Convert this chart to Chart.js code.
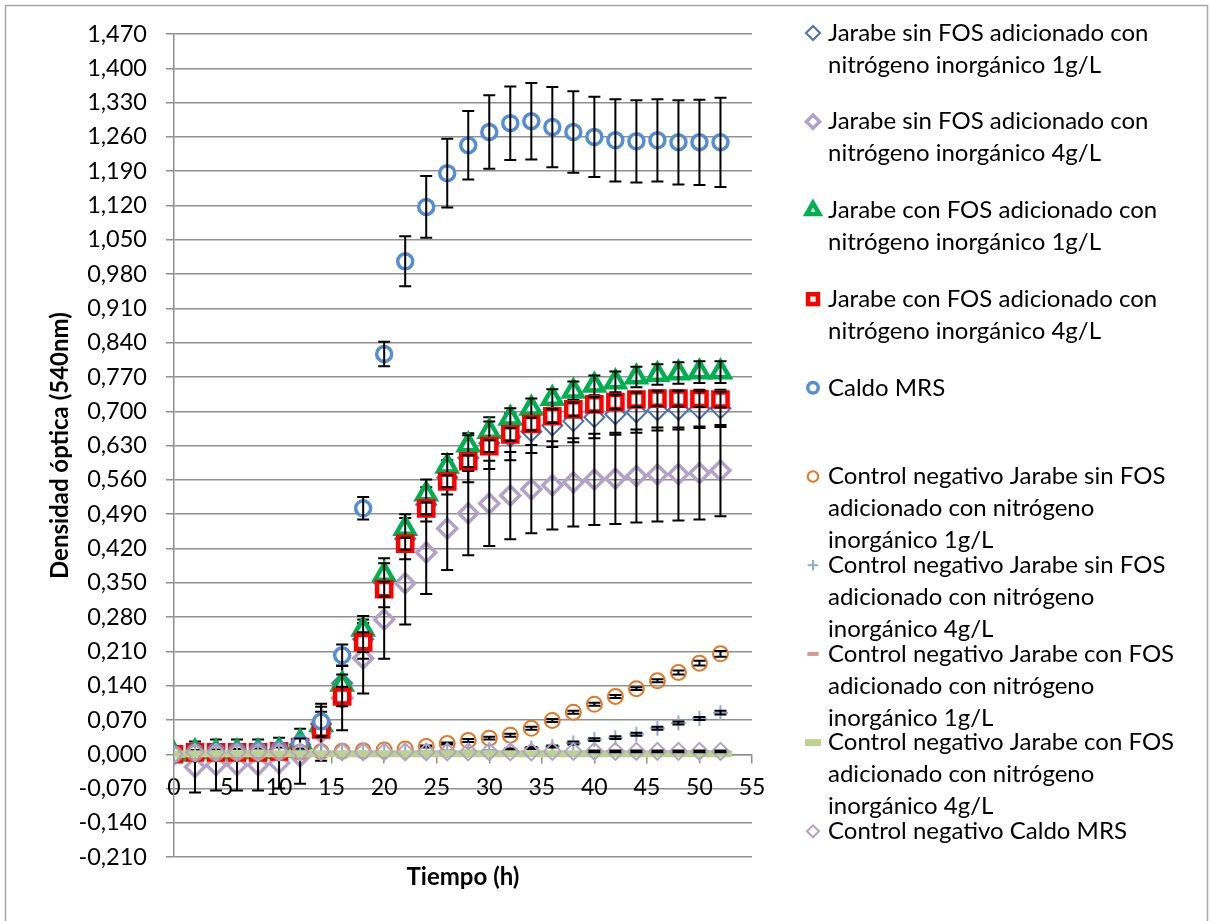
<!DOCTYPE html>
<html lang="es">
<head>
<meta charset="utf-8">
<title>Densidad óptica (540nm)</title>
<script src="https://cdn.jsdelivr.net/npm/chart.js@4.4.1/dist/chart.umd.min.js"></script>
<style>
  html, body { margin: 0; padding: 0; background: #fff; }
  canvas { display: block; }
</style>
</head>
<body>
<canvas id="grafico" width="1210" height="921"></canvas>
<script>
// tiempo de muestreo (h)
const horas = [0, 2, 4, 6, 8, 10, 12, 14, 16, 18, 20, 22, 24, 26, 28, 30, 32, 34, 36, 38, 40, 42, 44, 46, 48, 50, 52];

// DO 540nm, promedio y desviacion de cada tratamiento
const sinFos1g    = [0, 0.003, 0.005, 0.005, 0.005, 0.008, 0.020, 0.062, 0.145, 0.235, 0.350, 0.440, 0.510, 0.565, 0.605, 0.635, 0.648, 0.659, 0.671, 0.680, 0.688, 0.694, 0.698, 0.702, 0.703, 0.705, 0.706];
const sinFos1gErr = [0, 0.004, 0.004, 0.004, 0.004, 0.005, 0.010, 0.025, 0.035, 0.040, 0.050, 0.042, 0.035, 0.035, 0.050, 0.053, 0.048, 0.044, 0.044, 0.043, 0.043, 0.042, 0.042, 0.041, 0.040, 0.039, 0.038];

const sinFos4g    = [0, -0.026, -0.022, -0.022, -0.022, -0.018, -0.004, 0.045, 0.115, 0.196, 0.275, 0.349, 0.412, 0.461, 0.492, 0.512, 0.528, 0.541, 0.549, 0.555, 0.561, 0.563, 0.568, 0.571, 0.572, 0.574, 0.579];
const sinFos4gErr = [0, 0.052, 0.052, 0.052, 0.052, 0.052, 0.056, 0.058, 0.066, 0.072, 0.080, 0.084, 0.085, 0.085, 0.086, 0.087, 0.089, 0.090, 0.090, 0.090, 0.093, 0.093, 0.095, 0.096, 0.095, 0.095, 0.093];

const conFos1g    = [0, 0.005, 0.005, 0.005, 0.005, 0.008, 0.025, 0.061, 0.143, 0.255, 0.367, 0.461, 0.531, 0.588, 0.631, 0.659, 0.686, 0.706, 0.726, 0.741, 0.753, 0.760, 0.770, 0.775, 0.778, 0.780, 0.780];
const conFos1gErr = [0, 0.004, 0.004, 0.004, 0.004, 0.005, 0.008, 0.015, 0.020, 0.027, 0.023, 0.029, 0.030, 0.025, 0.020, 0.020, 0.020, 0.020, 0.019, 0.020, 0.020, 0.021, 0.021, 0.021, 0.022, 0.022, 0.022];

const conFos4g    = [0, 0.004, 0.004, 0.004, 0.004, 0.006, 0.015, 0.051, 0.118, 0.229, 0.337, 0.430, 0.502, 0.557, 0.598, 0.629, 0.653, 0.674, 0.690, 0.704, 0.714, 0.719, 0.724, 0.726, 0.726, 0.725, 0.724];
const conFos4gErr = [0, 0.004, 0.004, 0.004, 0.004, 0.005, 0.008, 0.015, 0.020, 0.020, 0.015, 0.012, 0.012, 0.012, 0.012, 0.012, 0.013, 0.013, 0.014, 0.014, 0.015, 0.015, 0.015, 0.015, 0.016, 0.016, 0.016];

const caldoMrs    = [0, 0.004, 0.005, 0.006, 0.007, 0.009, 0.022, 0.067, 0.202, 0.502, 0.817, 1.006, 1.117, 1.186, 1.243, 1.270, 1.288, 1.292, 1.280, 1.270, 1.260, 1.253, 1.251, 1.253, 1.249, 1.249, 1.249];
const caldoMrsErr = [0, 0.005, 0.005, 0.005, 0.005, 0.005, 0.010, 0.030, 0.022, 0.023, 0.025, 0.051, 0.063, 0.070, 0.070, 0.075, 0.075, 0.078, 0.082, 0.083, 0.082, 0.084, 0.084, 0.084, 0.086, 0.087, 0.091];

// controles negativos (sin inocular)
const ctrlSin1g    = [0, 0.002, 0.002, 0.003, 0.003, 0.004, 0.004, 0.005, 0.006, 0.007, 0.009, 0.011, 0.016, 0.022, 0.028, 0.033, 0.039, 0.053, 0.069, 0.086, 0.102, 0.118, 0.134, 0.150, 0.167, 0.186, 0.205];
const ctrlSin1gErr = [0, 0, 0, 0, 0, 0, 0, 0, 0, 0, 0, 0, 0.002, 0.002, 0.003, 0.003, 0.003, 0.003, 0.003, 0.003, 0.003, 0.003, 0.003, 0.003, 0.004, 0.005, 0.006];

const ctrlSin4g    = [0, 0.003, 0.003, 0.003, 0.004, 0.004, 0.004, 0.004, 0.005, 0.005, 0.005, 0.005, 0.006, 0.007, 0.008, 0.009, 0.010, 0.013, 0.016, 0.023, 0.030, 0.034, 0.041, 0.053, 0.064, 0.073, 0.085];
const ctrlSin4gErr = [0, 0, 0, 0, 0, 0, 0, 0, 0, 0, 0, 0, 0, 0, 0, 0, 0.002, 0.002, 0.002, 0.003, 0.003, 0.003, 0.003, 0.003, 0.003, 0.003, 0.004];

const ctrlCon1g    = [0, 0.002, 0.002, 0.002, 0.002, 0.002, 0.002, 0.002, 0.002, 0.002, 0.002, 0.002, 0.002, 0.002, 0.002, 0.002, 0.002, 0.002, 0.002, 0.002, 0.002, 0.002, 0.002, 0.002, 0.002, 0.002, 0.002];
const ctrlCon1gErr = [0, 0, 0, 0, 0, 0, 0, 0, 0, 0, 0, 0, 0, 0, 0, 0, 0, 0, 0, 0, 0, 0, 0, 0, 0, 0, 0];

const ctrlCon4g    = [0, 0.001, 0.001, 0.001, 0.001, 0.001, 0.001, 0.001, 0.001, 0.001, 0.001, 0.001, 0.001, 0.001, 0.001, 0.001, 0.001, 0.001, 0.001, 0.001, 0.001, 0.001, 0.001, 0.001, 0.001, 0.001, 0.001];
const ctrlCon4gErr = [0, 0, 0, 0, 0, 0, 0, 0, 0, 0, 0, 0, 0, 0, 0, 0, 0, 0, 0, 0, 0, 0, 0, 0, 0, 0, 0];

const ctrlMrs    = [0, 0.004, 0.004, 0.004, 0.004, 0.005, 0.005, 0.005, 0.005, 0.005, 0.005, 0.005, 0.005, 0.005, 0.005, 0.005, 0.005, 0.005, 0.006, 0.006, 0.006, 0.006, 0.006, 0.006, 0.006, 0.006, 0.006];
const ctrlMrsErr = [0, 0, 0, 0, 0, 0, 0, 0, 0, 0, 0, 0, 0, 0, 0, 0, 0, 0, 0, 0, 0.002, 0.002, 0.002, 0.002, 0.002, 0.002, 0.002];

const FUENTE = "Lato, 'Liberation Sans', sans-serif";

// nombre (en renglones), datos y marcador de cada serie
const series = [
  { nombre: ['Jarabe sin FOS adicionado con', 'nitrógeno inorgánico 1g/L'], y: sinFos1g, err: sinFos1gErr,
    estilo: 'rectRot', color: '#4a72b0', fondo: 'rgba(0,0,0,0)', radio: 10, borde: 2 },
  { nombre: ['Jarabe sin FOS adicionado con', 'nitrógeno inorgánico 4g/L'], y: sinFos4g, err: sinFos4gErr,
    estilo: 'rectRot', color: '#b3a2c7', fondo: 'rgba(0,0,0,0)', radio: 9.5, borde: 3.5 },
  { nombre: ['Jarabe con FOS adicionado con', 'nitrógeno inorgánico 1g/L'], y: conFos1g, err: conFos1gErr,
    estilo: 'triangle', color: '#00b050', fondo: '#ffffff', radio: 10.5, borde: 4.5 },
  { nombre: ['Jarabe con FOS adicionado con', 'nitrógeno inorgánico 4g/L'], y: conFos4g, err: conFos4gErr,
    estilo: 'rect', color: '#ff0000', fondo: '#ffffff', radio: 10, borde: 4.5 },
  { nombre: ['Caldo MRS'], y: caldoMrs, err: caldoMrsErr,
    estilo: 'circle', color: '#558ed5', fondo: '#ffffff', radio: 7.5, borde: 3.5 },
  { nombre: ['Control negativo Jarabe sin FOS', 'adicionado con nitrógeno', 'inorgánico 1g/L'], y: ctrlSin1g, err: ctrlSin1gErr,
    estilo: 'circle', color: '#e4771f', fondo: 'rgba(0,0,0,0)', radio: 7.5, borde: 2 },
  { nombre: ['Control negativo Jarabe sin FOS', 'adicionado con nitrógeno', 'inorgánico 4g/L'], y: ctrlSin4g, err: ctrlSin4gErr,
    estilo: 'cross', color: '#8faad6', fondo: 'rgba(0,0,0,0)', radio: 7.5, borde: 2 },
  { nombre: ['Control negativo Jarabe con FOS', 'adicionado con nitrógeno', 'inorgánico 1g/L'], y: ctrlCon1g, err: ctrlCon1gErr,
    estilo: 'line', color: '#d99694', fondo: 'rgba(0,0,0,0)', radio: 8, borde: 4 },
  { nombre: ['Control negativo Jarabe con FOS', 'adicionado con nitrógeno', 'inorgánico 4g/L'], y: ctrlCon4g, err: ctrlCon4gErr,
    estilo: 'line', color: '#bcd28f', fondo: 'rgba(0,0,0,0)', radio: 11.5, borde: 7 },
  { nombre: ['Control negativo Caldo MRS'], y: ctrlMrs, err: ctrlMrsErr,
    estilo: 'rectRot', color: '#b3a2c7', fondo: 'rgba(0,0,0,0)', radio: 8.5, borde: 2 },
];

// barras de error negras, dibujadas junto con cada serie
const barrasError = {
  id: 'barrasError',
  afterDatasetDraw(chart, args) {
    const ds = chart.data.datasets[args.index];
    if (!ds.errores) return;
    const escalaY = chart.scales.y;
    const ctx = chart.ctx;
    ctx.save();
    ctx.strokeStyle = '#000';
    ctx.lineWidth = 2;
    args.meta.data.forEach((p, i) => {
      const e = ds.errores[i];
      if (!e) return;
      const v = ds.data[i].y;
      const y1 = escalaY.getPixelForValue(v + e);
      const y2 = escalaY.getPixelForValue(v - e);
      ctx.beginPath();
      ctx.moveTo(p.x, y1); ctx.lineTo(p.x, y2);
      ctx.moveTo(p.x - 6, y1); ctx.lineTo(p.x + 6, y1);
      ctx.moveTo(p.x - 6, y2); ctx.lineTo(p.x + 6, y2);
      ctx.stroke();
    });
    ctx.restore();
  }
};

// fondo blanco y marco gris
const marco = {
  id: 'marco',
  beforeDraw(chart) {
    const ctx = chart.ctx;
    ctx.save();
    ctx.fillStyle = '#fff';
    ctx.fillRect(0, 0, chart.width, chart.height);
    ctx.strokeStyle = '#a6a6a6';
    ctx.lineWidth = 1.5;
    ctx.strokeRect(5.5, 5.5, 1202, 930);
    ctx.restore();
  }
};

// leyenda a la derecha con nombres en varios renglones
const leyenda = {
  id: 'leyenda',
  afterDraw(chart) {
    const ctx = chart.ctx;
    ctx.save();
    ctx.font = '24px ' + FUENTE;
    ctx.textBaseline = 'middle';
    ctx.textAlign = 'left';
    series.forEach((s, i) => {
      const y0 = 33 + i * 88.7;
      ctx.fillStyle = s.fondo;
      ctx.strokeStyle = s.color;
      ctx.lineWidth = s.borde;
      Chart.helpers.drawPoint(ctx, {
        pointStyle: s.estilo, rotation: 0, radius: s.radio * 0.7, borderWidth: s.borde
      }, 813, y0);
      ctx.fillStyle = '#000';
      s.nombre.forEach((linea, k) => ctx.fillText(linea, 828, y0 + k * 32));
    });
    ctx.restore();
  }
};

const datasets = series.map((s, i) => ({
  label: s.nombre.join(' '),
  data: horas.map((h, j) => ({ x: h, y: s.y[j] })),
  errores: s.err,
  pointStyle: s.estilo,
  pointRadius: s.radio,
  pointHoverRadius: s.radio,
  pointBorderWidth: s.borde,
  pointBorderColor: s.color,
  pointBackgroundColor: s.fondo,
  showLine: false,
  order: -i
}));

new Chart(document.getElementById('grafico'), {
  type: 'scatter',
  data: { datasets },
  options: {
    responsive: false,
    animation: false,
    devicePixelRatio: 1,
    layout: { padding: { top: 34, right: 458, bottom: 29, left: 0 } },
    plugins: {
      legend: { display: false },
      tooltip: { enabled: false },
      title: {
        display: true,
        position: 'bottom',
        fullSize: false,
        text: 'Tiempo (h)',
        color: '#000',
        font: { family: FUENTE, size: 24, weight: 'bold', lineHeight: 1.2 },
        padding: { top: 6, bottom: 0 }
      }
    },
    scales: {
      x: {
        axis: 'x',
        type: 'linear',
        position: { y: 0 },
        min: 0,
        max: 55,
        ticks: {
          stepSize: 5,
          color: '#000',
          padding: 11,
          maxRotation: 0,
          font: { family: FUENTE, size: 23 }
        },
        grid: { drawOnChartArea: false, drawTicks: true, tickLength: 8, color: '#8f8f8f', lineWidth: 1.5 },
        border: { display: true, color: '#8f8f8f', width: 1.5 }
      },
      y: {
        axis: 'y',
        type: 'linear',
        position: 'left',
        min: -0.21,
        max: 1.47,
        afterFit(scale) { scale.width = 174; },
        ticks: {
          stepSize: 0.07,
          color: '#000',
          padding: 19,
          font: { family: FUENTE, size: 23.5 },
          callback: (v) => (Math.abs(v) < 1e-9 ? 0 : v).toFixed(3).replace('.', ',')
        },
        grid: { color: '#8f8f8f', lineWidth: 1.5, tickLength: 8 },
        border: { display: true, color: '#8f8f8f', width: 1.5 },
        title: {
          display: true,
          text: 'Densidad óptica (540nm)',
          color: '#000',
          font: { family: FUENTE, size: 24, weight: 'bold', lineHeight: 1.2 },
          padding: { top: 46, bottom: 0 }
        }
      }
    }
  },
  plugins: [marco, barrasError, leyenda]
});
</script>
</body>
</html>
